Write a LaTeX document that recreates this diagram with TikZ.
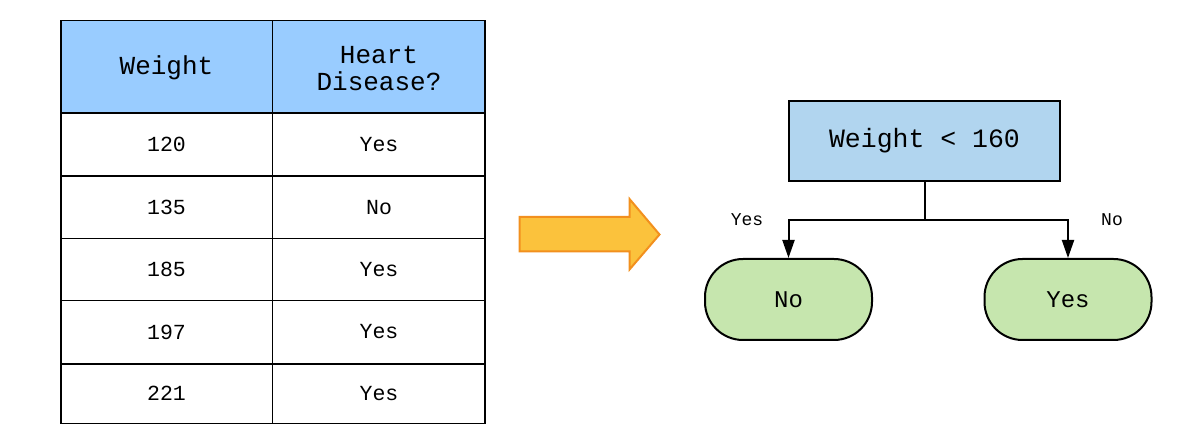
\documentclass[tikz,border=0pt]{standalone}
\usepackage{fontspec}
\setmonofont{Liberation Mono}
\usetikzlibrary{arrows.meta}
\definecolor{hdrblue}{HTML}{99CCFF}
\definecolor{boxblue}{HTML}{B1D5EF}
\definecolor{leafgreen}{HTML}{C6E6AE}
\definecolor{arrfill}{HTML}{FBC23C}
\definecolor{arrdraw}{HTML}{F2901E}
\begin{document}
\begin{tikzpicture}[x=1pt,y=-1pt,
  tline/.style={line width=1.2pt, black},
  hdrtxt/.style={font=\ttfamily\fontsize{26}{27}\selectfont, align=center, inner sep=0},
  celltxt/.style={font=\ttfamily\fontsize{21.5}{24}\selectfont, inner sep=0},
  decision/.style={draw=black, line width=2pt, fill=boxblue, minimum width=271pt, minimum height=80pt, inner sep=0, font=\ttfamily\fontsize{26.5}{28}\selectfont},
  leaf/.style={draw=black, line width=2pt, fill=leafgreen, rounded corners=38pt, minimum width=167pt, minimum height=81pt, inner sep=0, font=\ttfamily\fontsize{24}{26}\selectfont},
  elabel/.style={font=\ttfamily\fontsize{18}{20}\selectfont, inner sep=0},
  conn/.style={line width=2pt, black},
  arr/.style={conn, -{Triangle[length=18pt,width=12pt]}},
  bigarrow/.style={draw=arrdraw, fill=arrfill, line width=2pt, line join=miter}
]
\useasboundingbox (0,0) rectangle (1197,446);

% ---- table ----
\fill[hdrblue] (61,20.5) rectangle (485,113);
\draw[tline] (61,20.5) rectangle (485,423.5);
\draw[tline] (272.5,20.5) -- (272.5,423.5);
\foreach \yy in {113,176,238.5,300.5,364} {
  \draw[tline] (61,\yy) -- (485,\yy);
}
\node[hdrtxt] (hw) at (166.5,67.5) {Weight};
\node[hdrtxt] (hd) at (379,68) {Heart\\Disease?};
\node[celltxt] (w1) at (166.5,144.5) {120};
\node[celltxt] (d1) at (379,144.5) {Yes};
\node[celltxt] (w2) at (166.5,207.5) {135};
\node[celltxt] (d2) at (379,207.5) {No};
\node[celltxt] (w3) at (166.5,269.5) {185};
\node[celltxt] (d3) at (379,269.5) {Yes};
\node[celltxt] (w4) at (166.5,332) {197};
\node[celltxt] (d4) at (379,332) {Yes};
\node[celltxt] (w5) at (166.5,393.5) {221};
\node[celltxt] (d5) at (379,393.5) {Yes};

% ---- block arrow ----
\draw[bigarrow] (519.5,217) -- (629.5,217) -- (629.5,199) -- (659.5,234.5)
  -- (629.5,269.5) -- (629.5,251.5) -- (519.5,251.5) -- cycle;

% ---- tree ----
\node[decision] (root) at (924.5,141) {Weight < 160};
\node[leaf] (leafno) at (788.5,299.5) {No};
\node[leaf] (leafyes) at (1068,299.5) {Yes};
\coordinate (split) at (924.5,220);
\draw[conn] (root.south) -- (split);
\draw[arr] (split) -| (leafno.north);
\draw[arr] (split) -| (leafyes.north);
\node[elabel] (lyes) at (747,220) {Yes};
\node[elabel] (lno) at (1112,220) {No};
\end{tikzpicture}
\end{document}
